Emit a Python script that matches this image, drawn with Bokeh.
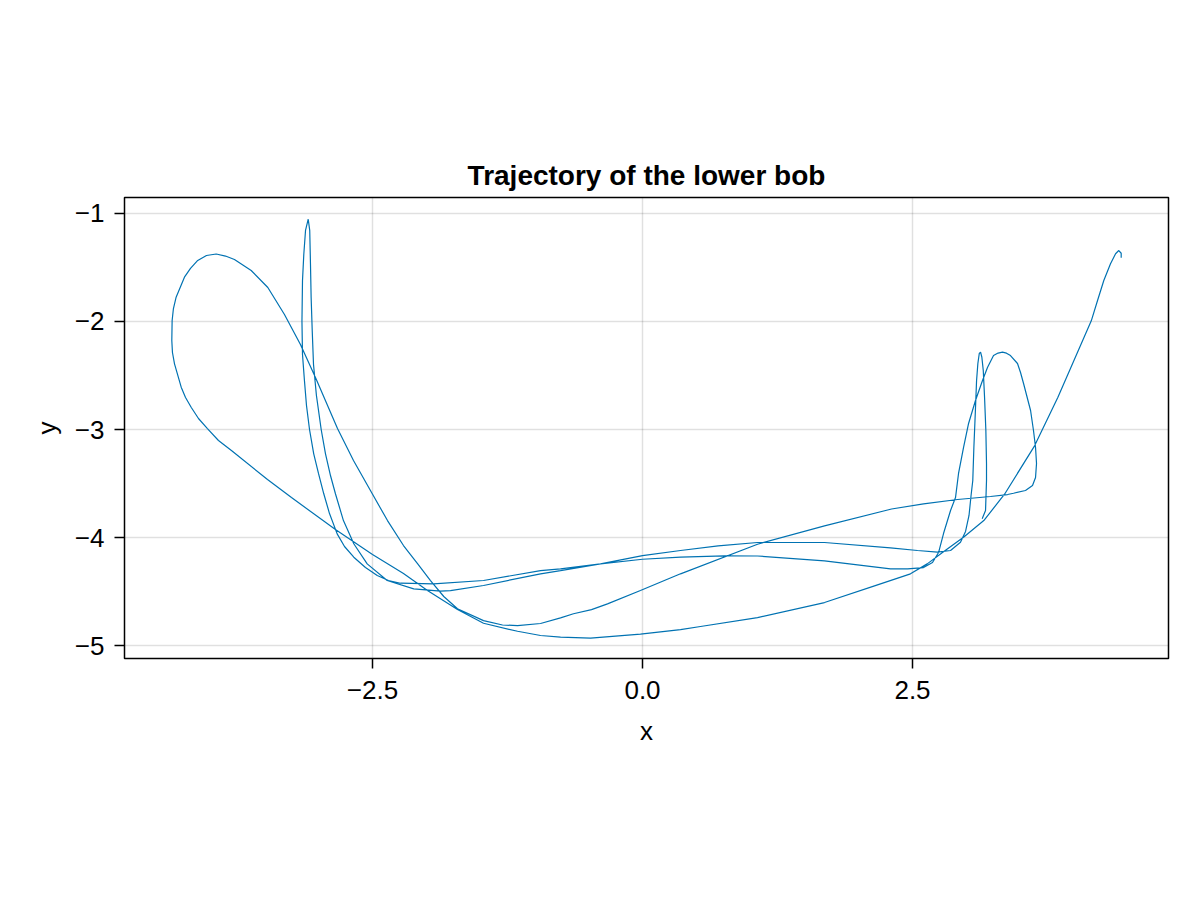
from bokeh.plotting import figure
from bokeh.models import Range1d, FixedTicker, ColumnDataSource
from bokeh.embed import file_html
from bokeh.resources import INLINE

# --- trajectory of the lower bob, in path order ---
narrow_spike_x = [3.145, 3.176, 3.185, 3.185, 3.179, 3.167, 3.155, 3.142, 3.130, 3.118,
                  3.105, 3.093, 3.081, 3.068, 3.058, 3.042, 3.023, 2.991, 2.944]
narrow_spike_y = [-3.827, -3.750, -3.472, -3.315, -3.009, -2.704, -2.454, -2.331, -2.284, -2.296,
                  -2.389, -2.546, -2.852, -3.167, -3.472, -3.611, -3.796, -3.944, -4.044]

strand_a_x = [2.852, 2.731, 2.546, 2.296, 1.685, 1.065, 0.700, 0.352, 0.000, -0.389, -0.759,
              -0.944, -1.472, -1.778, -1.870, -2.118, -2.364]
strand_a_y = [-4.120, -4.136, -4.120, -4.095, -4.046, -4.046, -4.078, -4.120, -4.167, -4.244, -4.306,
              -4.336, -4.444, -4.491, -4.497, -4.475, -4.398]

left_spike_x = [-2.549, -2.673, -2.769, -2.843, -2.889, -2.935, -2.975, -3.019, -3.046, -3.058,
                -3.068, -3.074, -3.081, -3.095, -3.120, -3.136, -3.148, -3.153, -3.148, -3.130,
                -3.111, -3.083, -3.044, -3.000, -2.951, -2.898, -2.827, -2.759, -2.673, -2.565,
                -2.456, -2.352, -2.241]
left_spike_y = [-4.244, -4.058, -3.843, -3.595, -3.426, -3.225, -3.000, -2.685, -2.398, -2.083,
                -1.778, -1.472, -1.157, -1.053, -1.157, -1.380, -1.620, -2.000, -2.306, -2.546,
                -2.778, -3.000, -3.225, -3.407, -3.595, -3.778, -3.966, -4.083, -4.182, -4.278,
                -4.352, -4.398, -4.423]

strand_b_x = [-1.935, -1.472, -0.944, -0.759, -0.389, 0.000, 0.352, 0.759, 1.065, 1.685,
              2.296, 2.454, 2.602, 2.685]
strand_b_y = [-4.429, -4.398, -4.306, -4.290, -4.244, -4.201, -4.182, -4.169, -4.171, -4.216,
              -4.290, -4.290, -4.278, -4.231]

wide_loop_x = [2.741, 2.787, 2.852, 2.898, 2.926, 2.972, 3.019, 3.083, 3.148, 3.194, 3.250,
               3.292, 3.333, 3.370, 3.407, 3.472, 3.500, 3.528, 3.593, 3.620, 3.639, 3.648,
               3.639, 3.611, 3.546, 3.435, 3.380, 3.222]
wide_loop_y = [-4.139, -3.963, -3.750, -3.630, -3.407, -3.167, -2.944, -2.731, -2.546, -2.426, -2.315,
               -2.292, -2.284, -2.293, -2.315, -2.389, -2.472, -2.574, -2.824, -3.009, -3.167, -3.315,
               -3.444, -3.519, -3.565, -3.590, -3.602, -3.620]

rising_x = [2.917, 2.602, 2.306, 1.685, 1.065, 0.352, -0.019, -0.324, -0.472, -0.639,
            -0.759, -0.944, -1.157, -1.296, -1.472, -1.713]
rising_y = [-3.648, -3.688, -3.736, -3.892, -4.062, -4.336, -4.491, -4.614, -4.667, -4.706,
            -4.744, -4.796, -4.815, -4.810, -4.769, -4.660]

big_loop_x = [-1.840, -1.963, -2.083, -2.213, -2.361, -2.519, -2.676, -2.824, -3.028, -3.167,
              -3.315, -3.469, -3.623, -3.778, -3.861, -3.947, -4.037, -4.118, -4.185,
              -4.241, -4.318, -4.343, -4.355, -4.358, -4.352, -4.333, -4.271, -4.231, -4.179,
              -4.111, -4.028, -3.926, -3.806, -3.472, -3.250, -2.843, -2.500, -2.213, -1.991,
              -1.713]
big_loop_y = [-4.546, -4.398, -4.241, -4.074, -3.843, -3.565, -3.287, -2.991, -2.519, -2.213,
              -1.935, -1.685, -1.528, -1.426, -1.394, -1.375, -1.389, -1.435, -1.509,
              -1.590, -1.775, -1.880, -1.991, -2.176, -2.287, -2.392, -2.608, -2.704, -2.794,
              -2.898, -2.991, -3.102, -3.194, -3.463, -3.630, -3.926, -4.157, -4.333, -4.491,
              -4.667]

bottom_x = [-1.472, -1.157, -0.944, -0.759, -0.481, -0.019, 0.352, 0.537, 1.065, 1.685]
bottom_y = [-4.794, -4.868, -4.907, -4.923, -4.932, -4.895, -4.852, -4.824, -4.741, -4.602]

right_arm_x = [2.148, 2.481, 2.636, 2.790, 2.975, 3.160, 3.352, 3.630, 3.845, 4.155,
               4.213, 4.271, 4.333, 4.380, 4.410, 4.432, 4.432]
right_arm_y = [-4.447, -4.336, -4.244, -4.130, -3.995, -3.843, -3.599, -3.151, -2.704, -1.994,
               -1.806, -1.620, -1.466, -1.373, -1.343, -1.368, -1.410]

x_ticks = [-2.5, 0.0, 2.5]
x_tick_labels = ["\u22122.5", "0.0", "2.5"]
y_ticks = [-5, -4, -3, -2, -1]
y_tick_labels = ["\u22125", "\u22124", "\u22123", "\u22122", "\u22121"]

xs = (narrow_spike_x + strand_a_x + left_spike_x + strand_b_x + wide_loop_x +
      rising_x + big_loop_x + bottom_x + right_arm_x)
ys = (narrow_spike_y + strand_a_y + left_spike_y + strand_b_y + wide_loop_y +
      rising_y + big_loop_y + bottom_y + right_arm_y)

FONT = "Liberation Sans"

p = figure(width=1200, height=900, output_backend="svg", toolbar_location=None,
           x_range=Range1d(-4.796, 4.870), y_range=Range1d(-5.120, -0.852),
           min_border_left=124, min_border_right=32, min_border_top=197, min_border_bottom=242)

p.background_fill_color = "white"
p.border_fill_color = "white"
p.outline_line_color = "black"
p.outline_line_width = 1.5

p.title.text = "Trajectory of the lower bob"
p.title.align = "center"
p.title.text_font = FONT
p.title.text_font_size = "28px"
p.title.text_font_style = "bold"
p.title.text_color = "black"
p.title.standoff = 13

for ax, ticks, labels in ((p.xaxis[0], x_ticks, x_tick_labels), (p.yaxis[0], y_ticks, y_tick_labels)):
    ax.ticker = FixedTicker(ticks=ticks)
    ax.major_label_overrides = {t: l for t, l in zip(ticks, labels)}
    ax.axis_line_color = None
    ax.major_tick_in = 0
    ax.major_tick_out = 10
    ax.major_tick_line_width = 1.5
    ax.major_tick_line_color = "black"
    ax.minor_tick_line_color = None
    ax.major_label_text_font = FONT
    ax.major_label_text_font_size = "26px"
    ax.major_label_text_color = "black"
    ax.axis_label_text_font = FONT
    ax.axis_label_text_font_size = "26px"
    ax.axis_label_text_font_style = "normal"
    ax.axis_label_text_color = "black"

p.xaxis.axis_label = "x"
p.yaxis.axis_label = "y"
p.xaxis.major_label_standoff = 12
p.yaxis.major_label_standoff = 10
p.xaxis.axis_label_standoff = 14
p.yaxis.axis_label_standoff = 10

p.xgrid.ticker = FixedTicker(ticks=x_ticks)
p.ygrid.ticker = FixedTicker(ticks=y_ticks)
for g in (p.xgrid[0], p.ygrid[0]):
    g.grid_line_color = "black"
    g.grid_line_alpha = 0.12
    g.grid_line_width = 1.5

src = ColumnDataSource(data=dict(x=xs, y=ys))
p.line("x", "y", source=src, line_color="#0072B2", line_width=1.2)

open("out.html", "w").write(file_html(p, INLINE))
